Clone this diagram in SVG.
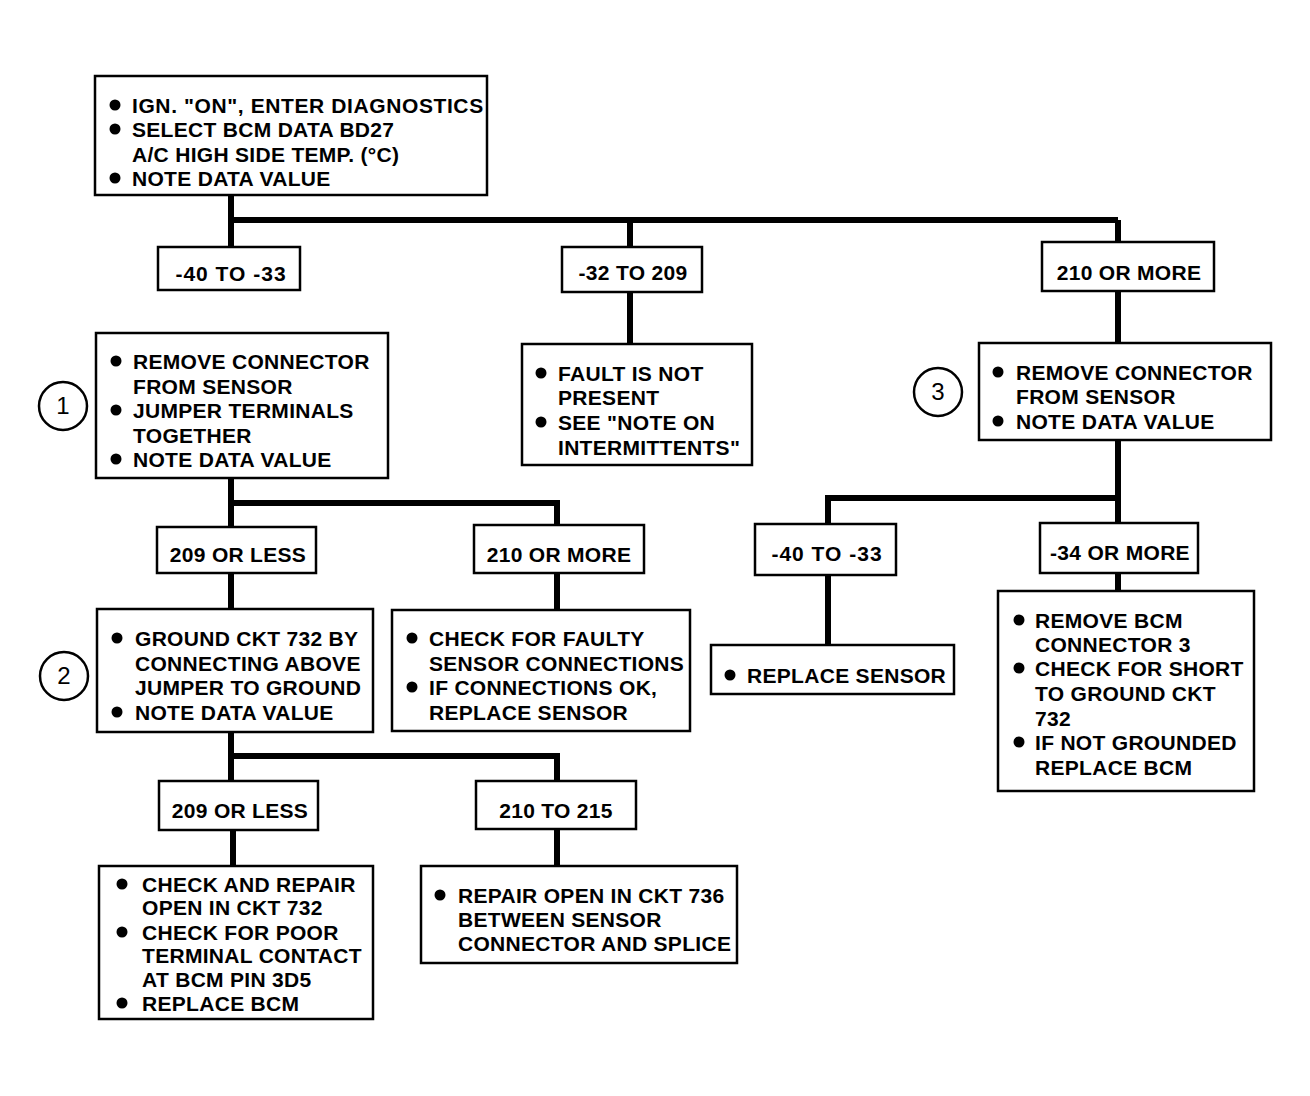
<svg xmlns="http://www.w3.org/2000/svg" width="1310" height="1096" viewBox="0 0 1310 1096">
<style>
.b{fill:#fff;stroke:#000;stroke-width:2.5}
.t{font-family:"Liberation Sans",Arial,sans-serif;font-weight:bold;font-size:21px;letter-spacing:0.3px;fill:#000}
.c{text-anchor:middle}
.d{fill:#000}
.w{fill:none;stroke:#000;stroke-width:6;stroke-linejoin:miter}
.n{font-family:"Liberation Sans",Arial,sans-serif;font-size:24px;fill:#000;text-anchor:middle}
</style>
<rect width="1310" height="1096" fill="#fff"/>
<g id="connectors">
<path class="w" d="M231 195V290M231 220H1118M630 220V247M1118 220V242"/>
<path class="w" d="M630 292V344M1118 291V343"/>
<path class="w" d="M231 478V527M231 503H557V525M231 573V609M557 573V610"/>
<path class="w" d="M231 732V781M231 756H557V781M233 830V866M557 829V866"/>
<path class="w" d="M1118 440V523M1118 498H828V524M828 575V645M1118 573V591"/>
</g>
<g id="start">
<rect class="b" x="95" y="76" width="392" height="119"/>
<circle class="d" cx="115" cy="105" r="5.5"/><circle class="d" cx="115" cy="129" r="5.5"/><circle class="d" cx="115" cy="178" r="5.5"/>
<text class="t" x="132" y="113" style="letter-spacing:0.6px">IGN. "ON", ENTER DIAGNOSTICS</text>
<text class="t" x="132" y="137">SELECT BCM DATA BD27</text>
<text class="t" x="132" y="162">A/C HIGH SIDE TEMP. (°C)</text>
<text class="t" x="132" y="186">NOTE DATA VALUE</text>
</g>
<g id="r1a"><rect class="b" x="158" y="247" width="142" height="43"/><text class="t c" x="231" y="281" style="letter-spacing:1px">-40 TO -33</text></g>
<g id="r1b"><rect class="b" x="562" y="247" width="140" height="45"/><text class="t c" x="633" y="280">-32 TO 209</text></g>
<g id="r1c"><rect class="b" x="1042" y="242" width="172" height="49"/><text class="t c" x="1129" y="280">210 OR MORE</text></g>
<g id="step1">
<rect class="b" x="96" y="333" width="292" height="145"/>
<circle class="d" cx="116" cy="361" r="5.5"/><circle class="d" cx="116" cy="410" r="5.5"/><circle class="d" cx="116" cy="459" r="5.5"/>
<text class="t" x="133" y="369">REMOVE CONNECTOR</text>
<text class="t" x="133" y="394">FROM SENSOR</text>
<text class="t" x="133" y="418">JUMPER TERMINALS</text>
<text class="t" x="133" y="443">TOGETHER</text>
<text class="t" x="133" y="467">NOTE DATA VALUE</text>
</g>
<g id="label1"><circle cx="63" cy="406" r="24" fill="none" stroke="#000" stroke-width="2.5"/><text class="n" x="63" y="414">1</text></g>
<g id="fault">
<rect class="b" x="522" y="344" width="230" height="121"/>
<circle class="d" cx="541" cy="373" r="5.5"/><circle class="d" cx="541" cy="422" r="5.5"/>
<text class="t" x="558" y="381">FAULT IS NOT</text>
<text class="t" x="558" y="405">PRESENT</text>
<text class="t" x="558" y="430">SEE "NOTE ON</text>
<text class="t" x="558" y="455">INTERMITTENTS"</text>
</g>
<g id="step3">
<rect class="b" x="979" y="343" width="292" height="97"/>
<circle class="d" cx="998" cy="372" r="5.5"/><circle class="d" cx="998" cy="421" r="5.5"/>
<text class="t" x="1016" y="380">REMOVE CONNECTOR</text>
<text class="t" x="1016" y="404">FROM SENSOR</text>
<text class="t" x="1016" y="429">NOTE DATA VALUE</text>
</g>
<g id="label3"><circle cx="938" cy="392" r="24" fill="none" stroke="#000" stroke-width="2.5"/><text class="n" x="938" y="400">3</text></g>
<g id="r2a"><rect class="b" x="157" y="527" width="159" height="46"/><text class="t c" x="238" y="562">209 OR LESS</text></g>
<g id="r2b"><rect class="b" x="474" y="525" width="170" height="48"/><text class="t c" x="559" y="562">210 OR MORE</text></g>
<g id="r3a"><rect class="b" x="755" y="524" width="141" height="51"/><text class="t c" x="827" y="561" style="letter-spacing:1px">-40 TO -33</text></g>
<g id="r3b"><rect class="b" x="1040" y="523" width="158" height="50"/><text class="t c" x="1120" y="560">-34 OR MORE</text></g>
<g id="step2">
<rect class="b" x="97" y="609" width="276" height="123"/>
<circle class="d" cx="117" cy="638" r="5.5"/><circle class="d" cx="117" cy="712" r="5.5"/>
<text class="t" x="135" y="646">GROUND CKT 732 BY</text>
<text class="t" x="135" y="671">CONNECTING ABOVE</text>
<text class="t" x="135" y="695">JUMPER TO GROUND</text>
<text class="t" x="135" y="720">NOTE DATA VALUE</text>
</g>
<g id="label2"><circle cx="64" cy="676" r="24" fill="none" stroke="#000" stroke-width="2.5"/><text class="n" x="64" y="684">2</text></g>
<g id="faulty">
<rect class="b" x="392" y="610" width="298" height="121"/>
<circle class="d" cx="412" cy="638" r="5.5"/><circle class="d" cx="412" cy="687" r="5.5"/>
<text class="t" x="429" y="646">CHECK FOR FAULTY</text>
<text class="t" x="429" y="671">SENSOR CONNECTIONS</text>
<text class="t" x="429" y="695">IF CONNECTIONS OK,</text>
<text class="t" x="429" y="720">REPLACE SENSOR</text>
</g>
<g id="replace">
<rect class="b" x="711" y="645" width="243" height="49"/>
<circle class="d" cx="730" cy="675" r="5.5"/>
<text class="t" x="747" y="683">REPLACE SENSOR</text>
</g>
<g id="bcm">
<rect class="b" x="998" y="591" width="256" height="200"/>
<circle class="d" cx="1019" cy="620" r="5.5"/><circle class="d" cx="1019" cy="668" r="5.5"/><circle class="d" cx="1019" cy="742" r="5.5"/>
<text class="t" x="1035" y="628">REMOVE BCM</text>
<text class="t" x="1035" y="652">CONNECTOR 3</text>
<text class="t" x="1035" y="676">CHECK FOR SHORT</text>
<text class="t" x="1035" y="701">TO GROUND CKT</text>
<text class="t" x="1035" y="726">732</text>
<text class="t" x="1035" y="750">IF NOT GROUNDED</text>
<text class="t" x="1035" y="775">REPLACE BCM</text>
</g>
<g id="r4a"><rect class="b" x="159" y="781" width="159" height="49"/><text class="t c" x="240" y="818">209 OR LESS</text></g>
<g id="r4b"><rect class="b" x="476" y="781" width="160" height="48"/><text class="t c" x="556" y="818">210 TO 215</text></g>
<g id="open732">
<rect class="b" x="99" y="866" width="274" height="153"/>
<circle class="d" cx="122" cy="884" r="5.5"/><circle class="d" cx="122" cy="932" r="5.5"/><circle class="d" cx="122" cy="1003" r="5.5"/>
<text class="t" x="142" y="892">CHECK AND REPAIR</text>
<text class="t" x="142" y="915">OPEN IN CKT 732</text>
<text class="t" x="142" y="940">CHECK FOR POOR</text>
<text class="t" x="142" y="963">TERMINAL CONTACT</text>
<text class="t" x="142" y="987">AT BCM PIN 3D5</text>
<text class="t" x="142" y="1011">REPLACE BCM</text>
</g>
<g id="open736">
<rect class="b" x="421" y="866" width="316" height="97"/>
<circle class="d" cx="440" cy="895" r="5.5"/>
<text class="t" x="458" y="903">REPAIR OPEN IN CKT 736</text>
<text class="t" x="458" y="927">BETWEEN SENSOR</text>
<text class="t" x="458" y="951">CONNECTOR AND SPLICE</text>
</g>
</svg>
